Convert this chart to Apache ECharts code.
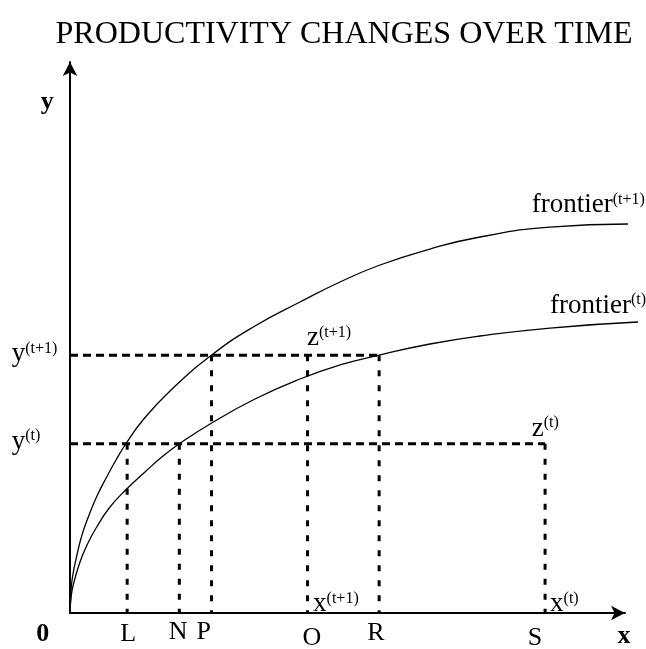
<!DOCTYPE html>
<html>
<head>
<meta charset="utf-8">
<script src="https://cdn.jsdelivr.net/npm/echarts@6/dist/echarts.min.js"></script>
<style>
  html, body { margin: 0; padding: 0; background: #fff; }
  #chart { width: 646px; height: 649px; }
</style>
</head>
<body>
<div id="chart"></div>
<script>
// ---------- DATA ----------
const titleText = 'PRODUCTIVITY CHANGES OVER TIME';

// frontier at time t+1
const frontierT1X = [0, 0.18, 0.45, 1.21, 2.16, 3.30, 4.86, 6.61, 8.29, 10.04, 13.15, 18.02, 25.53, 33.33, 41.44, 48.65, 55.86, 64.86, 73.87, 86.49, 100.54];
const frontierT1Y = [0, 3.99, 6.53, 10.34, 14.16, 17.42, 21.23, 24.68, 27.77, 30.67, 35.03, 40.29, 46.82, 52.09, 56.44, 60.07, 63.16, 66.06, 68.24, 70.05, 70.6];
// frontier at time t
const frontierTX = [0, 0.18, 0.54, 1.80, 3.24, 4.81, 7.21, 10.22, 13.51, 16.76, 19.64, 25.53, 33.33, 41.44, 48.65, 55.73, 64.86, 73.87, 86.49, 102.34];
const frontierTY = [0, 2.72, 4.90, 9.26, 12.70, 15.61, 19.24, 22.50, 25.59, 28.49, 30.67, 34.48, 38.84, 42.47, 45.01, 46.82, 48.82, 50.27, 51.72, 52.81];

// output levels (horizontal dashed lines) and where they stop
const levelNames = ['y(t+1)', 'y(t)'];
const levelValues = [46.8, 30.7];
const levelEnds = [55.7, 85.6];

// input points on the x axis (vertical dashed lines) and their tops
const pointNames = ['L', 'N', 'P', 'O', 'R', 'S'];
const pointX = [10.3, 19.7, 25.5, 42.8, 55.7, 85.6];
const pointTop = [30.7, 30.7, 46.8, 46.8, 46.8, 30.7];

// ---------- LAYOUT (annotation anchors in axis units) ----------
const plainLabels = [
  { text: '0', x: -4.9, y: -3.9, bold: true },
  { text: 'L', x: 10.5, y: -3.9 },
  { text: 'N', x: 19.5, y: -3.5 },
  { text: 'P', x: 24.1, y: -3.5 },
  { text: 'O', x: 43.6, y: -4.6 },
  { text: 'R', x: 55.1, y: -3.7 },
  { text: 'S', x: 83.8, y: -4.5 },
  { text: 'x', x: 99.8, y: -4.2, bold: true },
  { text: 'y', x: -4.1, y: 92.6, bold: true }
];
const superLabels = [
  { base: 'y', sup: '(t+1)', x: -10.5, y: 47.0 },
  { base: 'y', sup: '(t)', x: -10.5, y: 31.1 },
  { base: 'z', sup: '(t+1)', x: 42.7, y: 49.9 },
  { base: 'z', sup: '(t)', x: 83.2, y: 33.5 },
  { base: 'x', sup: '(t+1)', x: 43.8, y: 1.6 },
  { base: 'x', sup: '(t)', x: 86.5, y: 1.6 },
  { base: 'frontier', sup: '(t+1)', x: 83.2, y: 74.0 },
  { base: 'frontier', sup: '(t)', x: 86.5, y: 55.8 }
];

const FONT = '"Liberation Serif", "Times New Roman", serif';

function zip(xs, ys) { return xs.map((v, i) => [v, ys[i]]); }

// two grids with identical scale: grid 0 shows the arrowed axes (0..100),
// grid 1 (slightly wider, hidden axes) carries the marks so the curves may run past the arrow.
const X_MAX_VIS = 100, X_MAX_DATA = 103;
const GRID_LEFT = 70, GRID_RIGHT = 21, GRID_TOP = 62, GRID_BOTTOM = 36;
const plotW = 646 - GRID_LEFT - GRID_RIGHT;
const dataRight = 646 - GRID_LEFT - plotW * X_MAX_DATA / X_MAX_VIS;

const series = [];
const base = { xAxisIndex: 1, yAxisIndex: 1, showSymbol: false, clip: false, silent: true };
series.push(Object.assign({
  type: 'line', name: 'frontier(t+1)', data: zip(frontierT1X, frontierT1Y), smooth: 0.5,
  lineStyle: { color: '#000', width: 1.3 }
}, base));
series.push(Object.assign({
  type: 'line', name: 'frontier(t)', data: zip(frontierTX, frontierTY), smooth: 0.5,
  lineStyle: { color: '#000', width: 1.3 }
}, base));
levelValues.forEach((v, i) => {
  series.push(Object.assign({
    type: 'line', name: levelNames[i], data: [[0, v], [levelEnds[i], v]],
    lineStyle: { color: '#000', width: 3, type: [8, 5] }
  }, base));
});
pointX.forEach((x, i) => {
  series.push(Object.assign({
    type: 'line', name: pointNames[i], data: [[x, pointTop[i]], [x, 0]],
    lineStyle: { color: '#000', width: 3, type: [6, 9] }
  }, base));
});

const chart = echarts.init(document.getElementById('chart'), null, { renderer: 'canvas' });
const axisShown = {
  type: 'value', min: 0, max: 100, gridIndex: 0,
  axisLine: {
    show: true, onZero: false, symbol: ['none', 'arrow'], symbolSize: [11, 14],
    lineStyle: { color: '#000', width: 2 }
  },
  axisTick: { show: false }, axisLabel: { show: false }, splitLine: { show: false }
};
const axisHidden = {
  type: 'value', min: 0, gridIndex: 1,
  axisLine: { show: false }, axisTick: { show: false }, axisLabel: { show: false }, splitLine: { show: false }
};
chart.setOption({
  animation: false,
  backgroundColor: '#fff',
  title: {
    text: titleText, left: 339, top: 14, textAlign: 'center',
    textStyle: { fontFamily: FONT, fontSize: 32, fontWeight: 'normal', color: '#000' }
  },
  grid: [
    { left: GRID_LEFT, right: GRID_RIGHT, top: GRID_TOP, bottom: GRID_BOTTOM },
    { left: GRID_LEFT, right: dataRight, top: GRID_TOP, bottom: GRID_BOTTOM }
  ],
  xAxis: [axisShown, Object.assign({}, axisHidden, { max: X_MAX_DATA })],
  yAxis: [axisShown, Object.assign({}, axisHidden, { max: 100 })],
  series: series
});

const graphics = [];
plainLabels.forEach(l => {
  const p = chart.convertToPixel({ gridIndex: 0 }, [l.x, l.y]);
  graphics.push({
    type: 'text', x: p[0], y: p[1], silent: true,
    style: {
      text: l.text, align: 'center', verticalAlign: 'middle', fill: '#000',
      font: (l.bold ? 'bold ' : '') + '26px ' + FONT
    }
  });
});
superLabels.forEach(l => {
  const p = chart.convertToPixel({ gridIndex: 0 }, [l.x, l.y]);
  graphics.push({
    type: 'text', x: p[0], y: p[1], silent: true,
    style: {
      text: '{b|' + l.base + '}{s|' + l.sup + '}', align: 'left', verticalAlign: 'middle',
      fill: '#000',
      rich: {
        b: { fontFamily: FONT, fontSize: 27, fill: '#000', lineHeight: 27 },
        s: { fontFamily: FONT, fontSize: 16, fill: '#000', verticalAlign: 'top', lineHeight: 18 }
      }
    }
  });
});
chart.setOption({ graphic: graphics });
</script>
</body>
</html>
